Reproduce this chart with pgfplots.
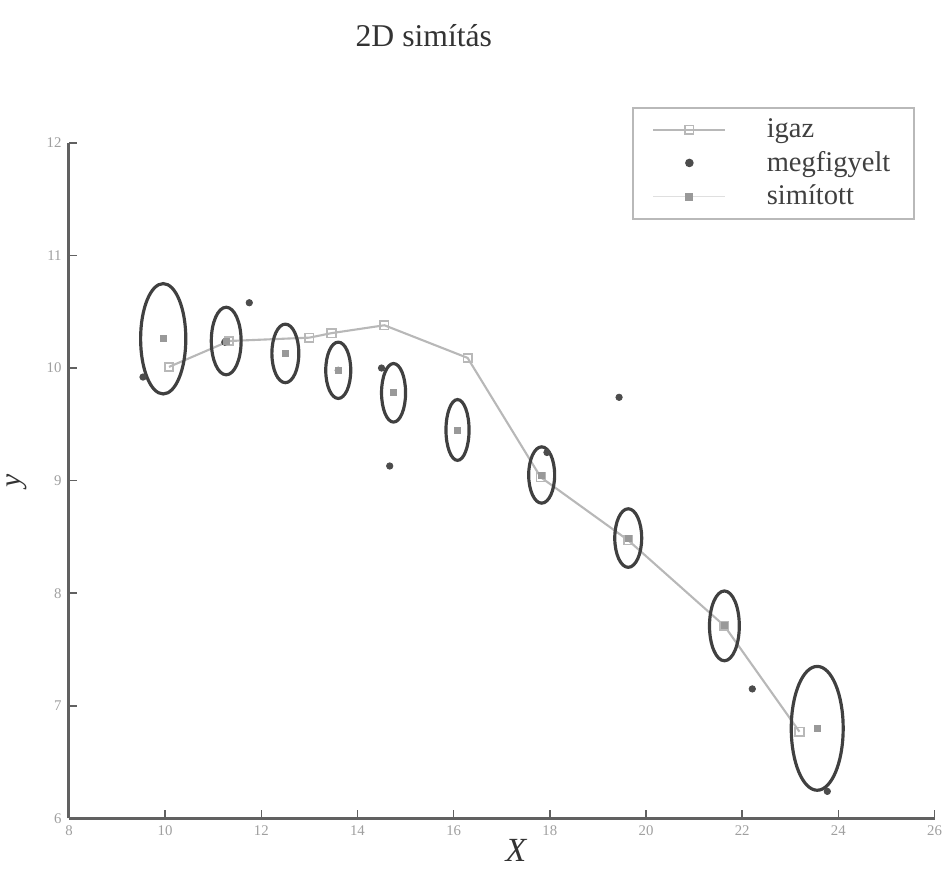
\documentclass[border=0pt]{standalone}
\usepackage{fontspec}
\setmainfont{Liberation Serif}
\usepackage{pgfplots}
\pgfplotsset{compat=1.18}
\usepackage{pgfplotstable}
\definecolor{axgray}{gray}{0.38}
\definecolor{truegray}{gray}{0.72}
\definecolor{obsgray}{gray}{0.3}
\definecolor{smgray}{gray}{0.6}
\definecolor{ellgray}{gray}{0.25}

% igaz (true track)
\pgfplotstableread{
x y
10.08 10.01
11.33 10.24
13.00 10.27
13.46 10.31
14.56 10.38
16.29 10.09
17.81 9.03
19.63 8.47
21.63 7.71
23.19 6.77
}\trueTab

% megfigyelt (observations)
\pgfplotstableread{
x y
9.54 9.92
11.24 10.23
11.75 10.58
13.60 9.98
14.50 10.00
14.67 9.13
17.94 9.25
19.44 9.74
22.21 7.15
23.77 6.24
}\obsTab

% simitott (smoothed) with ellipse half axes in data units
\pgfplotstableread{
x y rx ry
9.96 10.26 0.47 0.49
11.27 10.24 0.31 0.30
12.50 10.13 0.28 0.26
13.60 9.98 0.26 0.25
14.75 9.78 0.25 0.26
16.08 9.45 0.24 0.27
17.83 9.05 0.27 0.25
19.63 8.49 0.28 0.26
21.63 7.71 0.31 0.31
23.56 6.80 0.54 0.55
}\smTab

\pgfplotsset{
  smoothlegend/.style={legend image code/.code={\draw[gray!25, line width=0.8pt] (0cm,0cm) -- (1.2cm,0cm);
      \draw[##1] plot coordinates {(0.6cm,0cm)};}},
}

\begin{document}
\begin{tikzpicture}
\begin{axis}[
    x=0.8cm, y=1.873cm,
    xmin=8, xmax=26, ymin=6, ymax=12,
    axis lines*=left,
    axis line style={draw=axgray, line width=1.4pt},
    xtick={8,10,...,26}, ytick={6,7,...,12},
    tick align=inside, major tick length=4pt,
    tick style={draw=axgray, line width=0.7pt},
    tick label style={font=\fontsize{7}{8}\selectfont, text=gray!75},
    /pgf/number format/assume math mode=true,
    xlabel={\textit{X}}, ylabel={\textit{y}},
    xlabel style={at={(axis description cs:0.517,-0.047)}, anchor=center, font=\fontsize{16}{16}\selectfont, text=black!80},
    ylabel style={at={(axis description cs:-0.06,0.5)}, anchor=center, font=\fontsize{14}{14}\selectfont, text=black!80},
    title={2D simítás},
    title style={at={(axis description cs:0.41,1)}, anchor=center, yshift=1.57cm, inner ysep=0.41cm, font=\fontsize{15}{18}\selectfont, text=black!80},
    legend image code/.code={\draw[mark repeat=2,mark phase=2,#1] plot coordinates {(0cm,0cm) (0.6cm,0cm) (1.2cm,0cm)};},
    legend style={at={(0.977,1.053)}, anchor=north east, draw=gray!55, line width=1pt,
      font=\fontsize{13.5}{12}\selectfont, text=black!75, row sep=3pt,
      inner xsep=9pt, inner ysep=4pt,
      nodes={inner ysep=1pt},
      /tikz/every odd column/.append style={column sep=0.6cm}},
    legend cell align=left,
  ]
  % ellipses around the smoothed estimates
  \addplot[scatter, only marks, mark=*, mark size=0pt, forget plot,
    visualization depends on={\thisrow{rx} \as \rx},
    visualization depends on={\thisrow{ry} \as \ry},
    scatter/@pre marker code/.code={%
      \pgfsetlinewidth{1.5pt}\pgfsetstrokecolor{ellgray}%
      \pgfpathellipse{\pgfpointorigin}{\pgfpoint{\rx*0.8cm}{0pt}}{\pgfpoint{0pt}{\ry*1.873cm}}%
      \pgfusepath{stroke}},
    scatter/@post marker code/.code={},
  ] table[x=x, y=y] {\smTab};
  \addplot[truegray, line width=1pt, mark=square, mark size=2pt, mark options={line width=0.8pt}]
    table[x=x, y=y] {\trueTab};
  \addplot[only marks, mark=*, mark size=1.5pt, obsgray] table[x=x, y=y] {\obsTab};
  \addplot[only marks, mark=square*, mark size=1.4pt, smgray, smoothlegend]
    table[x=x, y=y] {\smTab};
  \legend{igaz, megfigyelt, simított}
\end{axis}
\end{tikzpicture}
\end{document}
